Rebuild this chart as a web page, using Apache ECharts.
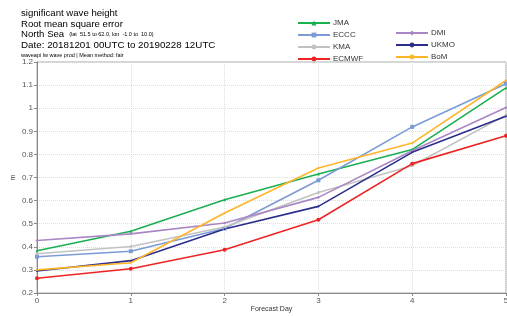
<!DOCTYPE html>
<html>
<head>
<meta charset="utf-8">
<script src="https://cdn.jsdelivr.net/npm/echarts@6/dist/echarts.min.js"></script>
<style>
html, body { margin: 0; padding: 0; background: #fff; }
#chart { width: 507px; height: 316px; }
</style>
</head>
<body>
<div id="chart"></div>
<script>
var days = [0, 1, 2, 3, 4, 5];
var jma   = [0.383, 0.467, 0.604, 0.715, 0.821, 1.088];
var eccc  = [0.357, 0.381, 0.479, 0.688, 0.919, 1.106];
var kma   = [0.370, 0.401, 0.486, 0.635, 0.751, 0.970];
var ecmwf = [0.264, 0.305, 0.387, 0.517, 0.760, 0.881];
var dmi   = [0.427, 0.456, 0.503, 0.614, 0.816, 1.003];
var ukmo  = [0.295, 0.340, 0.477, 0.575, 0.809, 0.965];
var bom   = [0.300, 0.331, 0.546, 0.741, 0.849, 1.120];
var yTicks = [0.2, 1.2, 0.1];

var font = 'Liberation Sans, Arial, sans-serif';
var chart = echarts.init(document.getElementById('chart'));

function mk(name, data, color, symbol, size) {
    return {
        name: name,
        type: 'line',
        data: days.map(function (d, i) { return [d, data[i]]; }),
        symbol: symbol,
        symbolSize: size,
        showSymbol: true,
        lineStyle: { width: 1.6, color: color },
        itemStyle: { color: color },
        z: 3
    };
}

var legendCommon = {
    orient: 'vertical',
    itemWidth: 32,
    itemHeight: 6,
    itemGap: 4,
    textStyle: { fontFamily: font, fontSize: 8, color: '#333', padding: [0, 0, 0, -2] },
    padding: 0
};

function ttl(text, top, size) {
    return { text: text, left: 21, top: top, padding: 0,
        textStyle: { fontFamily: font, fontSize: size, fontWeight: 'normal', color: '#000' } };
}

var option = {
    animation: false,
    backgroundColor: '#fff',
    title: [
        ttl('significant wave height', 8.5, 9.6),
        ttl('Root mean square error', 19, 9.6),
        { text: '{a|North Sea} {b|(lat  51.5 to 62.0, lon  -1.0 to  10.0)}', left: 21, top: 25.5, padding: 0,
          textStyle: { fontWeight: 'normal', rich: {
              a: { fontFamily: font, fontSize: 9.6, fontWeight: 'normal', color: '#000', lineHeight: 12 },
              b: { fontFamily: font, fontSize: 5.5, fontWeight: 'normal', color: '#000', lineHeight: 12 } } } },
        ttl('Date: 20181201 00UTC to 20190228 12UTC', 40, 9.8),
        ttl('waveapi lw wave prod | Mean method: fair', 52, 5.5)
    ],
    legend: [
        Object.assign({ left: 297, top: 19, data: ['JMA', 'ECCC', 'KMA', 'ECMWF'] }, legendCommon),
        Object.assign({ left: 395, top: 29, data: ['DMI', 'UKMO', 'BoM'] }, legendCommon)
    ],
    grid: {
        left: 37, right: 1, top: 62, bottom: 23,
        outerBoundsMode: 'none',
        containLabel: false,
        show: true, borderColor: '#aaa', borderWidth: 1
    },
    xAxis: {
        type: 'value',
        min: 0, max: 5, interval: 1,
        name: 'Forecast Day',
        nameLocation: 'middle',
        nameGap: 13,
        nameMoveOverlap: false,
        nameTextStyle: { fontFamily: font, fontSize: 7, color: '#333' },
        axisLine: { lineStyle: { color: '#888' } },
        axisTick: { show: true, length: 3, lineStyle: { color: '#888' } },
        axisLabel: { fontFamily: font, fontSize: 8, color: '#555', margin: 4 },
        splitLine: { show: true, lineStyle: { color: '#ddd', type: 'dotted' } }
    },
    yAxis: {
        type: 'value',
        min: yTicks[0], max: yTicks[1], interval: yTicks[2],
        name: 'm',
        nameLocation: 'middle',
        nameGap: 20,
        nameMoveOverlap: false,
        nameTextStyle: { fontFamily: font, fontSize: 7, color: '#333' },
        axisLine: { show: true, lineStyle: { color: '#888' } },
        axisTick: { show: true, length: 3, lineStyle: { color: '#888' } },
        axisLabel: { fontFamily: font, fontSize: 8, color: '#555', margin: 4,
            formatter: function (v) { return Math.round(v * 10) / 10 + ''; } },
        splitLine: { show: true, lineStyle: { color: '#ddd', type: 'dotted' } }
    },
    series: [
        mk('JMA', jma, '#1aaf50', 'triangle', 3),
        mk('ECCC', eccc, '#7b9bd6', 'rect', 4),
        mk('KMA', kma, '#c2c2c2', 'circle', 3),
        mk('ECMWF', ecmwf, '#ee2424', 'circle', 4),
        mk('DMI', dmi, '#a987c4', 'diamond', 3),
        mk('UKMO', ukmo, '#2b2d8c', 'circle', 2),
        mk('BoM', bom, '#fdb628', 'circle', 2)
    ]
};
chart.setOption(option);
</script>
</body>
</html>
